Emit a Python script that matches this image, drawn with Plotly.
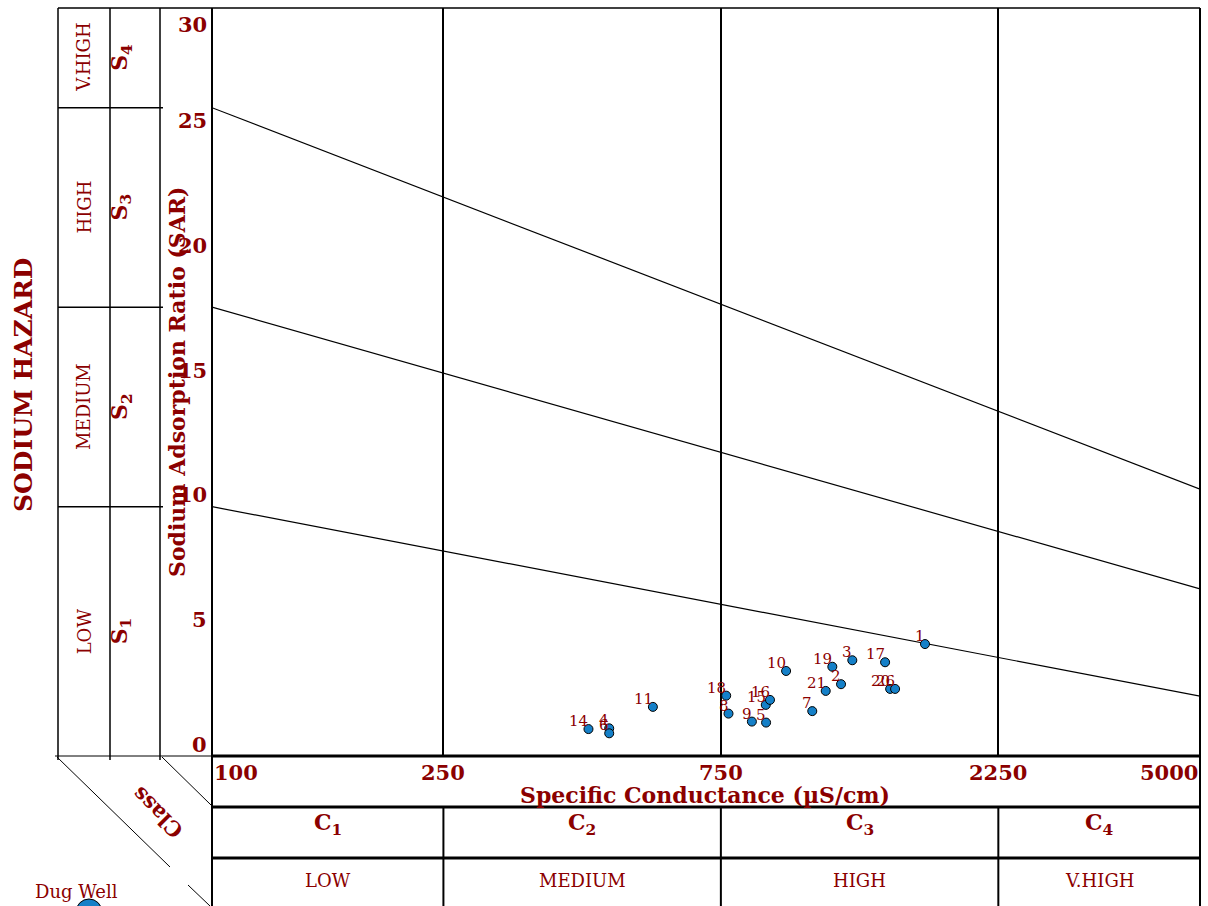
import math
import plotly.graph_objects as go

W, H = 1208, 906

# ---------------- data ----------------
labels = ["1", "2", "3", "4", "5", "6", "7", "8", "9", "10", "11", "14",
          "15", "16", "17", "18", "19", "20", "21", "26"]
ec = [1683, 1207, 1262, 482, 897, 482, 1077, 773, 848, 971, 573, 444,
      896, 911, 1437, 766, 1166, 1466, 1136, 1495]
sar = [4.49, 2.88, 3.84, 1.11, 1.34, 0.91, 1.80, 1.70, 1.38, 3.41, 1.97, 1.08,
       2.05, 2.25, 3.76, 2.42, 3.58, 2.69, 2.61, 2.69]

# class boundary lines (SAR at EC = 100 and EC = 5000)
boundary_ec = [100, 5000]
boundary_s12 = [10, 2.4]
boundary_s23 = [18, 6.7]
boundary_s34 = [26, 10.7]

ec_ticks = [100, 250, 750, 2250, 5000]
ec_ticklabels = ["100", "250", "750", "2250", "5000"]
sar_ticks = [0, 5, 10, 15, 20, 25, 30]
sar_ticklabels = ["0", "5", "10", "15", "20", "25", "30"]
c_classes = ["C<sub>1</sub>", "C<sub>2</sub>", "C<sub>3</sub>", "C<sub>4</sub>"]
c_hazard = ["LOW", "MEDIUM", "HIGH", "V.HIGH"]
s_classes = ["S<sub>1</sub>", "S<sub>2</sub>", "S<sub>3</sub>", "S<sub>4</sub>"]
s_hazard = ["LOW", "MEDIUM", "HIGH", "V.HIGH"]
s_bounds = [0, 10, 18, 26, 30]

# ---------------- layout helpers ----------------
RED = "#8B0000"
BLUE = "#1580C8"
SERIF = "DejaVu Serif"
X0, X1 = 212, 1200
Y0, Y1 = 8, 756
EC_MIN, EC_MAX = 100, 5000


def px(x):
    return x / W


def py(y):
    return 1 - y / H


def ec_paper(v):
    f = (math.log10(v) - math.log10(EC_MIN)) / (math.log10(EC_MAX) - math.log10(EC_MIN))
    return px(X0 + f * (X1 - X0))


fig = go.Figure()

for ys in (boundary_s12, boundary_s23, boundary_s34):
    fig.add_trace(go.Scatter(x=boundary_ec, y=ys, mode="lines",
                             line=dict(color="black", width=1.2), hoverinfo="skip",
                             showlegend=False))

fig.add_trace(go.Scatter(
    x=ec, y=sar, mode="markers",
    marker=dict(size=9, color=BLUE, line=dict(color="black", width=1)),
    cliponaxis=False, showlegend=False, name="Dug Well"))

shapes = []


def line(x0, y0, x1, y1, w=1.5):
    shapes.append(dict(type="line", xref="paper", yref="paper",
                       x0=x0, y0=y0, x1=x1, y1=y1,
                       line=dict(color="black", width=w)))


# top border
line(px(58), py(Y0), px(X1), py(Y0), 1.5)
# left panel verticals
for xv in (58, 110, 160):
    line(px(xv), py(Y0), px(xv), py(760), 1.5)
# left panel class boundaries (at SAR levels)
for b in s_bounds[1:-1]:
    yy = py(Y1 - b * (Y1 - Y0) / 30)
    line(px(58), yy, px(163), yy, 1.5)
line(px(55), py(Y1), px(X0), py(Y1), 1)
# axis verticals
line(px(X0), py(Y0), px(X0), py(H), 2)
line(px(X1), py(Y0), px(X1), py(H), 2)
# thick horizontals
for yv in (Y1, 807, 858):
    line(px(X0), py(yv), px(X1), py(yv), 3)
# lower band verticals
for v in ec_ticks[1:-1]:
    line(ec_paper(v), py(807), ec_paper(v), py(H), 2)
# diagonals
line(px(57), py(757), px(170), py(867), 1)
line(px(188), py(885), px(210), py(906), 1)
line(px(162), py(757), px(211), py(805), 1)
# legend marker
shapes.append(dict(type="circle", xref="paper", yref="paper",
                   x0=px(76), x1=px(102), y0=py(899), y1=py(925),
                   fillcolor=BLUE, line=dict(color="black", width=1)))

ann = []


def text(x, y, t, size, bold=False, angle=0, xanchor="center", yanchor="middle",
         xref="paper", yref="paper", **kw):
    ann.append(dict(x=x, y=y, xref=xref, yref=yref,
                    text=("<b>%s</b>" % t) if bold else t,
                    textangle=angle, xanchor=xanchor, yanchor=yanchor,
                    showarrow=False, font=dict(family=SERIF, size=size, color=RED), **kw))


# point labels
for x, y, t in zip(ec, sar, labels):
    text(math.log10(x), y, t, 15, xref="x", yref="y", xanchor="right",
         yanchor="middle", xshift=2, yshift=8)

for v, t in zip(sar_ticks, sar_ticklabels):
    if v == sar_ticks[-1]:
        text(px(209), v, t, 21, bold=True, xanchor="right", yanchor="top",
             yref="y", yshift=-2)
    else:
        text(px(209), v, t, 21, bold=True, xanchor="right", yanchor="middle",
             yref="y", yshift=12)
for i, (v, t) in enumerate(zip(ec_ticks, ec_ticklabels)):
    anchor = "left" if i == 0 else ("right" if i == len(ec_ticks) - 1 else "center")
    text(ec_paper(v), py(772), t, 21, bold=True, xanchor=anchor)
text(px(705), py(795), "Specific Conductance (µS/cm)", 22, bold=True)
for i in range(4):
    lo, hi = ec_ticks[i], ec_ticks[i + 1]
    mid = math.sqrt(lo * hi)
    text(ec_paper(mid), py(824), c_classes[i], 22, bold=True)
    text(ec_paper(mid), py(880), c_hazard[i], 18)
for i in range(4):
    mid = (s_bounds[i] + s_bounds[i + 1]) / 2
    text(px(84), mid, s_hazard[i], 18, angle=-90, yref="y")
    text(px(121), mid, s_classes[i], 22, bold=True, angle=-90, yref="y")
text(px(23), py(385), "SODIUM HAZARD", 25, bold=True, angle=-90)
text(px(177), py(382), "Sodium Adsorption Ratio (SAR)", 22, bold=True, angle=-90)
text(px(157), py(813), "Class", 21, bold=True, angle=-135)
text(px(76), py(891), "Dug Well", 18)

fig.update_layout(
    width=W, height=H, margin=dict(l=0, r=0, t=0, b=0),
    paper_bgcolor="white", plot_bgcolor="white",
    xaxis=dict(type="log", range=[math.log10(EC_MIN), math.log10(EC_MAX)],
               domain=[px(X0), px(X1)], tickvals=ec_ticks[1:-1], showgrid=True,
               gridcolor="black", gridwidth=1.5, showticklabels=False, ticks="",
               zeroline=False, showline=False),
    yaxis=dict(range=[0, 30], domain=[py(Y1), py(Y0)], showgrid=False,
               showticklabels=False, ticks="", zeroline=False, showline=False),
    shapes=shapes, annotations=ann, showlegend=False,
)

fig.write_html("out.html")
